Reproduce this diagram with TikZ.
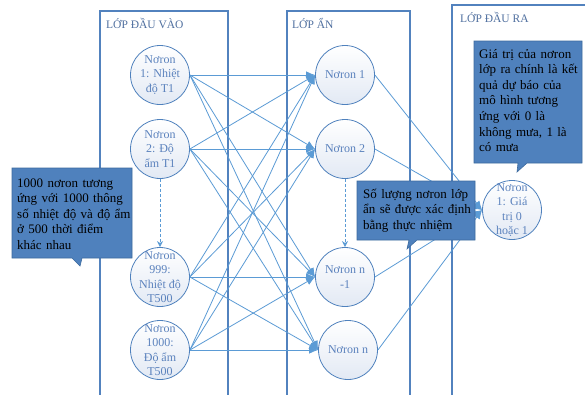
\documentclass[tikz,border=0pt]{standalone}
\usepackage{fontspec}
\setmainfont{Liberation Serif}
\usetikzlibrary{arrows.meta}
\definecolor{panelc}{HTML}{5282BE}
\definecolor{connc}{HTML}{5B9BD5}
\definecolor{nodeb}{HTML}{4F81BD}
\definecolor{nodef}{HTML}{E2E9F4}
\definecolor{nodet}{HTML}{5B82BD}
\definecolor{callf}{HTML}{4F81BD}
\definecolor{callb}{HTML}{3C6A9E}
\definecolor{hdrc}{HTML}{4F6F9F}
\tikzset{
  panel/.style={draw=panelc, line width=1.1pt},
  neuron/.style={circle, draw=nodeb, line width=0.8pt, minimum size=59pt, inner sep=0pt, top color=white, bottom color=nodef},
  ntext/.style={font=\fontsize{12}{14.3}\selectfont, text=nodet, align=center, inner sep=0pt},
  conn/.style={draw=connc, line width=0.8pt, -{Latex[length=9pt,width=7.5pt]}},
  dasharr/.style={draw=connc, line width=0.8pt, dash pattern=on 3pt off 2pt, -{Stealth[length=6pt,width=6pt]}},
  callout/.style={fill=callf, draw=callb, line width=0.6pt},
  ctext/.style={font=\fontsize{13}{15.6}\selectfont, align=left, inner sep=0pt, text width=125pt, text=black},
  hdr/.style={font=\fontsize{11.5}{13}\selectfont, text=hdrc, inner sep=0pt}
}
\begin{document}
\begin{tikzpicture}[x=1pt,y=-1pt]
\useasboundingbox (0,0) rectangle (585,394);
\fill[white] (0,0) rectangle (585,394);
% panels
\draw[panel] (100,396) -- (100,11) -- (228,11) -- (228,396);
\draw[panel] (287,396) -- (287,11) -- (410,11) -- (410,396);
\draw[panel] (452,396) -- (452,5) -- (587,5);
\node[hdr, anchor=west] (hin) at (106,23) {LỚP ĐẦU VÀO};
\node[hdr, anchor=west] (hhid) at (292,23) {LỚP ẨN};
\node[hdr, anchor=west] (hout) at (460,17) {LỚP ĐẦU RA};
% neurons
\node[neuron] (in1) at (160,75) {};
\node[neuron] (in2) at (160,149) {};
\node[neuron] (in999) at (160,277) {};
\node[neuron] (in1000) at (160,350) {};
\node[neuron] (h1) at (345,75) {};
\node[neuron] (h2) at (345,149) {};
\node[neuron] (hn1) at (345,277) {};
\node[neuron] (hn) at (348,350) {};
\node[neuron] (out) at (512,210) {};
% connectors
\foreach \a in {in1,in2,in999,in1000}
  \foreach \b in {h1,h2,hn1,hn}
    \draw[conn] (\a.east) -- (\b.west);
\foreach \b in {h1,h2,hn1,hn}
  \draw[conn] (\b.east) -- (out.west);
\draw[dasharr] (in2.south) -- (in999.north);
\draw[dasharr] (h2.south) -- (hn1.north);
% neuron texts
\node[ntext] (t1) at (in1) {Nơron\\1: Nhiệt\\độ T1};
\node[ntext] (t2) at (in2) {Nơron\\2: Độ\\ẩm T1};
\node[ntext] (t3) at (in999) {Nơron\\999:\\Nhiệt độ\\T500};
\node[ntext] (t4) at (in1000) {Nơron\\1000:\\Độ ẩm\\T500};
\node[ntext] (t5) at (h1) {Nơron 1};
\node[ntext] (t6) at (h2) {Nơron 2};
\node[ntext] (t7) at (hn1) {Nơron n\\-1};
\node[ntext] (t8) at (hn) {Nơron n};
\node[ntext] (t9) at (out) {Nơron\\1: Giá\\trị 0\\hoặc 1};
% callouts
\draw[callout] (12,168) -- (132,168) -- (132,258) -- (82,258) -- (80,266) -- (72,258) -- (12,258) -- cycle;
\node[ctext, anchor=base west] (c1) at (17,187) {1000 nơron tương\\ứng với 1000 thông\\số nhiệt độ và độ ẩm\\ở 500 thời điểm\\khác nhau};
\draw[callout] (357,181) -- (475,181) -- (475,240) -- (417,240) -- (407,249) -- (409,240) -- (357,240) -- cycle;
\node[ctext, anchor=base west] (c2) at (363,198) {Số lượng nơron lớp\\ẩn sẽ được xác định\\bằng thực nhiệm};
\draw[callout] (474,41) -- (582,41) -- (582,163) -- (527,163) -- (517,172) -- (518,163) -- (474,163) -- cycle;
\node[ctext, anchor=base west] (c3) at (479,58) {Giá trị của nơron\\lớp ra chính là kết\\quả dự báo của\\mô hình tương\\ứng với 0 là\\không mưa, 1 là\\có mưa};
\end{tikzpicture}
\end{document}
